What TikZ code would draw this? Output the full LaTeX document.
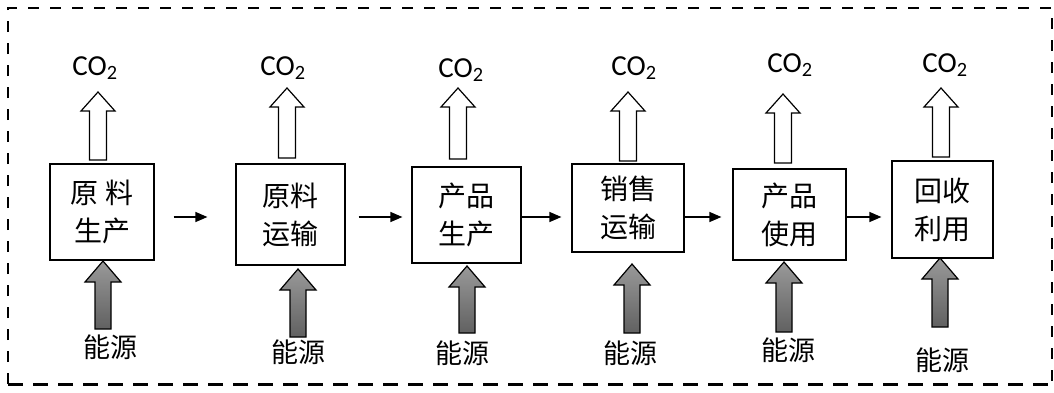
\documentclass[tikz,border=0pt]{standalone}
\usepackage{fontspec}
\setmainfont{Carlito}
\newfontfamily\cjk{Noto Sans CJK SC}
\usetikzlibrary{arrows.meta,calc}
\tikzset{
  stagebox/.style={draw,line width=1.2pt,fill=white,inner sep=0pt,align=center,
    font=\cjk\fontsize{28}{38}\selectfont},
  flow/.style={line width=1.3pt,-{Triangle[length=12pt,width=10pt]}},
  co2lbl/.style={anchor=base,font=\fontsize{29}{32}\selectfont},
  enlbl/.style={font=\cjk\fontsize{27}{30}\selectfont},
  whitearr/.style={draw,line width=1.2pt,fill=white},
  grayarr/.style={draw,line width=1.2pt,top color=black!40,bottom color=black!62},
  pics/blockup/.style n args={4}{code={
    % #1 total length, #2 shaft half width, #3 head half width, #4 head length
    \path[pic actions] (-#2,0) -- (-#2,-#1+#4) -- (-#3,-#1+#4) -- (0,-#1)
      -- (#3,-#1+#4) -- (#2,-#1+#4) -- (#2,0) -- cycle;
  }},
}
\begin{document}
\begin{tikzpicture}[x=1pt,y=-1pt]
\useasboundingbox (0,0) rectangle (1054,392);
% dashed frame
\draw[line width=1.6pt,dash pattern=on 11pt off 11pt] (8,384) -- (8,8) -- (1052,8) -- (1052,384);
\draw[line width=3pt,dash pattern=on 15pt off 10pt] (8,384) -- (1052,384);
% stage boxes
\node[stagebox,minimum width=104pt,minimum height=96pt]  (b1) at (102,212)   {原 料\\生产};
\node[stagebox,minimum width=109pt,minimum height=101pt] (b2) at (290.5,214.5) {原料\\运输};
\node[stagebox,minimum width=109pt,minimum height=96pt]  (b3) at (466.5,215) {产品\\生产};
\node[stagebox,minimum width=112pt,minimum height=88pt]  (b4) at (628,208)   {销售\\运输};
\node[stagebox,minimum width=113pt,minimum height=91pt]  (b5) at (789.5,214.5) {产品\\使用};
\node[stagebox,minimum width=101pt,minimum height=97pt]  (b6) at (942.5,209.5) {回收\\利用};
% flow arrows
\draw[flow] ($(b1.east)+(19,5)$) -- ($(b2.west)+(-28,2.5)$);
\draw[flow] ($(b2.east)+(13,2.5)$) -- ($(b3.west)+(-9,2)$);
\draw[flow] ($(b3.east)+(0,2)$) -- ($(b4.west)+(-10,9)$);
\draw[flow] ($(b4.east)+(0,9)$) -- ($(b5.west)+(-11,2.5)$);
\draw[flow] ($(b5.east)+(0,2.5)$) -- ($(b6.west)+(-10,7.5)$);
% CO2 outflow arrows
\pic[whitearr] at (98,160)  {blockup={68}{8.5}{17}{19}};
\pic[whitearr] at (287,158) {blockup={70}{8.5}{17}{19}};
\pic[whitearr] at (458,159) {blockup={71}{8.5}{17}{19}};
\pic[whitearr] at (628,161) {blockup={69}{8.5}{17}{19}};
\pic[whitearr] at (783,163) {blockup={69}{8.5}{17}{19}};
\pic[whitearr] at (941,157) {blockup={69}{8.5}{17}{19}};
% energy inflow arrows
\pic[grayarr] at (103,329) {blockup={68}{8}{18}{21}};
\pic[grayarr] at (298,337) {blockup={68}{8}{18}{21}};
\pic[grayarr] at (467,333) {blockup={67}{8}{18}{21}};
\pic[grayarr] at (632,333) {blockup={69}{8}{18}{21}};
\pic[grayarr] at (784,332) {blockup={70}{8}{18}{21}};
\pic[grayarr] at (940,327) {blockup={69}{8}{18}{21}};
% CO2 labels
\node[co2lbl] (c1) at (95,75)  {CO\textsubscript{2}};
\node[co2lbl] (c2) at (283,75) {CO\textsubscript{2}};
\node[co2lbl] (c3) at (461,77) {CO\textsubscript{2}};
\node[co2lbl] (c4) at (634,75) {CO\textsubscript{2}};
\node[co2lbl] (c5) at (790,72) {CO\textsubscript{2}};
\node[co2lbl] (c6) at (945,72) {CO\textsubscript{2}};
% energy labels
\node[enlbl] (e1) at (110,347) {能源};
\node[enlbl] (e2) at (298,352) {能源};
\node[enlbl] (e3) at (462,353) {能源};
\node[enlbl] (e4) at (630,353) {能源};
\node[enlbl] (e5) at (788,350) {能源};
\node[enlbl] (e6) at (942,360) {能源};
\end{tikzpicture}
\end{document}
